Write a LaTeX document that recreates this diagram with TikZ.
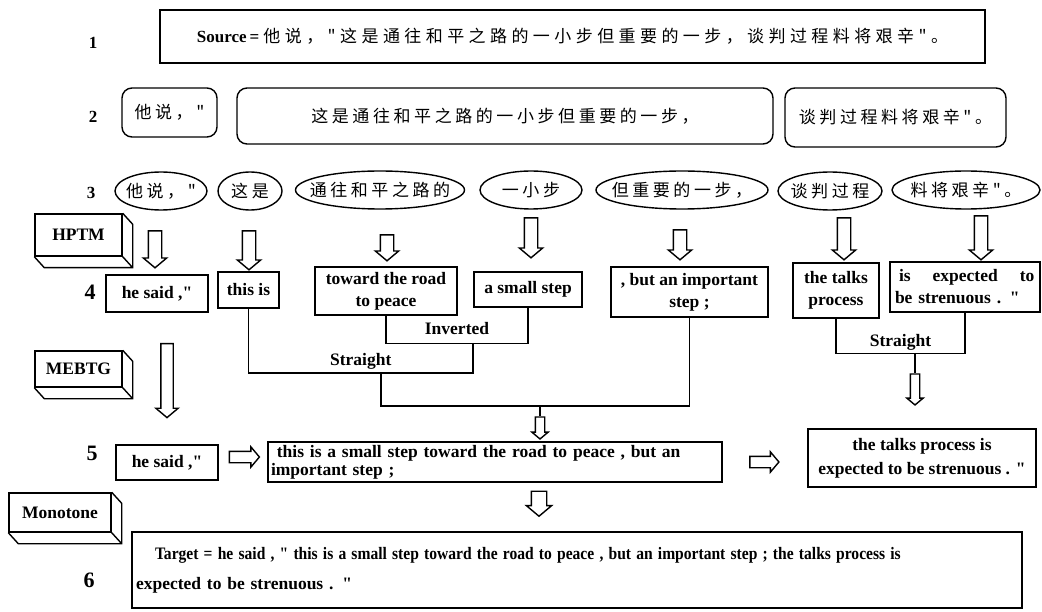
\documentclass[tikz,border=0pt]{standalone}
\usepackage{fontspec}
\setmainfont{Liberation Serif}[Ligatures=TeXOff]
\newfontfamily\zh[LetterSpace=21, Ligatures=TeXOff]{Noto Sans CJK SC}
\usetikzlibrary{shapes,arrows,positioning}

\tikzstyle{line} = [draw, line width=1.4pt]
\tikzstyle{box} = [draw, line width=1.4pt, inner sep=0pt, align=center, font=\bfseries\fontsize{17.5}{22}\selectfont]
\tikzstyle{seg} = [box, rounded corners=10pt, font=\zh\fontsize{17}{18}\selectfont]
\tikzstyle{word} = [draw, line width=1.4pt, ellipse, inner xsep=-80pt, inner ysep=0pt, minimum height=38pt, font=\zh\fontsize{17}{18}\selectfont]
\tikzstyle{num} = [font=\bfseries\fontsize{17}{20}\selectfont]
\tikzstyle{bignum} = [font=\bfseries\fontsize{22}{24}\selectfont]
\tikzstyle{lbl} = [font=\bfseries\fontsize{17.5}{20}\selectfont, inner sep=3pt]
\tikzstyle{model} = [box, fill=white]
\tikzstyle{down} = [draw, line width=1.4pt, single arrow, shape border rotate=270, single arrow head extend=5pt, single arrow tip angle=100, inner sep=6pt]
\tikzstyle{fwd} = [down, shape border rotate=0, inner sep=5pt, single arrow head extend=4.5pt]

\begin{document}
\begin{tikzpicture}[x=1pt, y=-1pt]
    \useasboundingbox (0,0) rectangle (1042,612);
    % Place nodes
    \node [num] (n1) at (93,43) {1};
    \node [num] (n2) at (93,117) {2};
    \node [num] (n3) at (91,193) {3};
    \node [bignum] (n4) at (90,292) {4};
    \node [bignum] (n5) at (92,453) {5};
    \node [bignum] (n6) at (89,580) {6};

    \node [box, minimum width=825pt, minimum height=53pt, font=\fontsize{17}{18}\selectfont] (src) at (572.5,36.5) {\textbf{Source\,=} {\zh\addfontfeature{LetterSpace=26}他说，"这是通往和平之路的一小步但重要的一步，谈判过程料将艰辛"。}};

    \node [seg, minimum width=95pt, minimum height=49pt] (s1) at (169.5,112.5) {他说，"};
    \node [seg, minimum width=536pt, minimum height=56pt] (s2) at (505,116) {这是通往和平之路的一小步但重要的一步，};
    \node [seg, minimum width=221pt, minimum height=59pt] (s3) at (895.5,117.5) {谈判过程料将艰辛"。};

    \node [word, minimum width=92pt] (w1) at (161,191) {他说，"};
    \node [word, minimum width=64pt] (w2) at (250,191) {这是};
    \node [word, minimum width=169pt] (w3) at (380,190) {通往和平之路的};
    \node [word, minimum width=102pt] (w4) at (531,190) {一小步};
    \node [word, minimum width=172pt] (w5) at (682,190) {但重要的一步，};
    \node [word, minimum width=104pt] (w6) at (830,191) {谈判过程};
    \node [word, minimum width=148pt] (w7) at (966,190) {料将艰辛"。};

    \node [box, minimum width=102pt, minimum height=37pt] (t1) at (157,293.5) {he said ,"};
    \node [box, minimum width=61pt, minimum height=36pt] (t2) at (248.5,290) {this is};
    \node [box, minimum width=142pt, minimum height=48pt] (t3) at (386,291) {toward the road\\to peace};
    \node [box, minimum width=108pt, minimum height=35pt] (t4) at (528,289.5) {a small step};
    \node [box, minimum width=157pt, minimum height=50pt] (t5) at (689.5,292) {, but an important\\step ;};
    \node [box, minimum width=86pt, minimum height=55pt] (t6) at (836,290.5) {the talks\\process};
    \node [box, minimum width=150pt, minimum height=50pt, text width=140pt, inner xsep=5pt, align=left] (t7) at (965,287) {\hspace*{4pt}is\hspace{22pt}expected\hspace{22pt}to\\be strenuous . "};

    \node [box, minimum width=102pt, minimum height=35pt] (r1) at (167,462.5) {he said ,"};
    \node [box, minimum width=454pt, minimum height=40pt, text width=448pt, inner xsep=3pt, align=left, font=\bfseries\fontsize{17.5}{18}\selectfont] (r2) at (495,462) {\ this is a small step toward the road to peace , but an\\important step ;};
    \node [box, minimum width=228pt, minimum height=58pt, font=\bfseries\fontsize{17.5}{24}\selectfont] (r3) at (922,458) {the talks process is\\expected to be strenuous . "};

    \node [box, minimum width=890pt, minimum height=76pt, text width=882pt, inner xsep=4pt, align=left, font=\bfseries\fontsize{17.5}{30}\selectfont] (tgt) at (577,570) {\hspace*{19pt}\scalebox{0.89}[1]{Target = he said , " this is a small step toward the road to peace , but an important step ; the talks process is}\\expected to be strenuous . "};

    \node [model, minimum width=87pt, minimum height=42pt] (hptm) at (78.5,235) {HPTM};
    \node [model, minimum width=87pt, minimum height=36pt] (mebtg) at (78.5,369) {MEBTG};
    \node [model, minimum width=102pt, minimum height=39pt] (mono) at (60,512.5) {Monotone};
    \foreach \n in {hptm,mebtg,mono}
        \path [line] (\n.north east) -- ++(10,11) -- ([shift={(10,11)}]\n.south east) -- ([shift={(10,11)}]\n.south west) -- (\n.south west) (\n.south east) -- ++(10,11);

    % Hollow arrows
    \node [down, minimum height=37pt] (a1) at (155,246.5) {};
    \node [down, minimum height=39pt] (a2) at (249,247.5) {};
    \node [down, minimum height=26pt] (a3) at (387,245) {};
    \node [down, minimum height=40pt] (a4) at (531,235) {};
    \node [down, minimum height=30pt] (a5) at (680,242) {};
    \node [down, minimum height=42pt] (a6) at (844,236) {};
    \node [down, minimum height=44pt] (a7) at (981,235) {};
    \node [down, minimum height=74pt, inner sep=5.5pt] (a8) at (167,378) {};
    \node [down, minimum height=22pt, inner sep=4pt, single arrow head extend=3.5pt] (a9) at (540,426) {};
    \node [down, minimum height=31pt, inner sep=4pt, single arrow head extend=3.5pt] (a10) at (915,387.5) {};
    \node [down, minimum height=25pt, inner sep=7pt] (a11) at (539,500.5) {};
    \node [fwd, minimum height=30pt] (f1) at (242,457) {};
    \node [fwd, minimum height=29pt] (f2) at (762,462) {};

    % Reordering trees
    \path [line] (t3.south) -- ++(0,28) -| node [lbl, pos=0.25, above=5pt] (inv-lbl) {Inverted} (t4.south);
    \coordinate (inv) at (473,343);
    \path [line] (inv) -- ++(0,30) -| node [lbl, pos=0.25, above] (str-lbl) {Straight} (t2.south);
    \coordinate (str) at (381,373);
    \path [line] (str) -- ++(0,33) -| (t5.south);
    \coordinate (mrg) at (540,406);
    \path [line] (mrg) -- (a9.tail);
    \path [line] (t6.south) -- ++(0,35) -| node [lbl, pos=0.25, above] (rstr-lbl) {Straight} (t7.south);
    \coordinate (rstr) at (915,353);
    \path [line] (rstr) -- (a10.tail);
\end{tikzpicture}
\end{document}
